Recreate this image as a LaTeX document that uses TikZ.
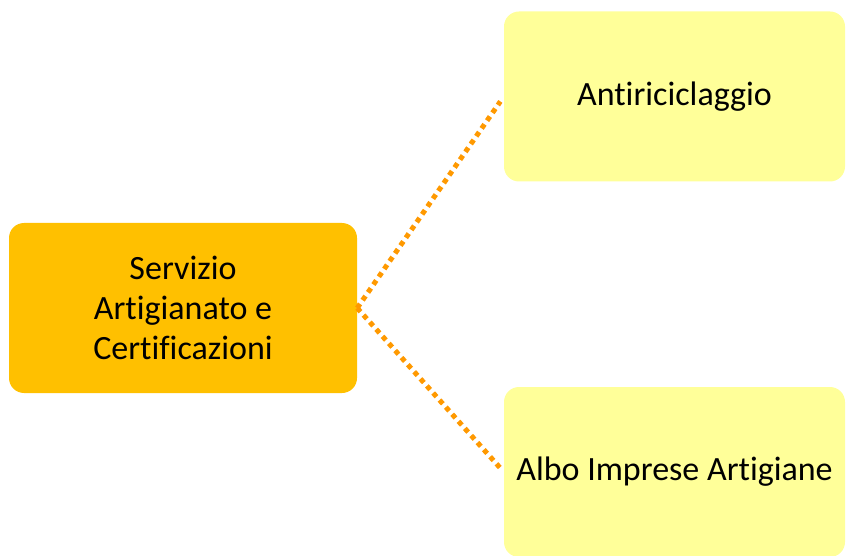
\documentclass[tikz,border=0pt]{standalone}
\usepackage{fontspec}
\setmainfont{Carlito}[Ligatures=NoCommon]
\usetikzlibrary{positioning}
\definecolor{mainfill}{RGB}{255, 192, 0}
\definecolor{subfill}{RGB}{255, 255, 153}
\definecolor{linkline}{RGB}{255, 153, 0}
\begin{document}
\begin{tikzpicture}[x=1pt, y=-1pt,
    mainbox/.style={rectangle, rounded corners=15pt, fill=mainfill, minimum width=348pt,
                minimum height=170pt, align=center, font=\fontsize{34}{40}\selectfont, inner sep=0pt},
    subbox/.style={rectangle, rounded corners=15pt, fill=subfill, minimum width=341pt,
                minimum height=170pt, align=center, font=\fontsize{34}{40}\selectfont, inner sep=0pt},
    link/.style={linkline, line width=5pt, dash pattern=on 5pt off 4.5pt, shorten >=6pt}]
    
    \useasboundingbox (0, 0) rectangle (846, 556);
    
    \node[mainbox] (servizio) at (183, 308) {Servizio\\Artigianato e\\Certificazioni};
    \node[subbox] (antiric) at (674.5, 96.5) {Antiriciclaggio};
    \node[subbox] (albo) at (674.5, 472) {Albo Imprese Artigiane};
    
    \draw[link] (servizio.east) -- (antiric.west);
    \draw[link] (servizio.east) -- (albo.west);
\end{tikzpicture}
\end{document}
